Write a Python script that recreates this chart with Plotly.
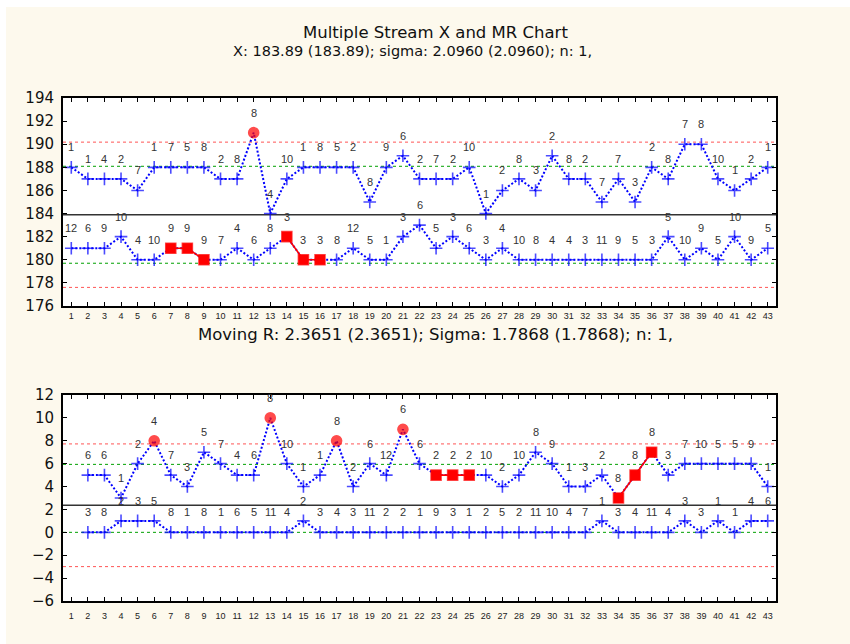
import plotly.graph_objects as go

# ---------------- data ----------------
idx = list(range(1, 44))
x_max = [188, 187, 187, 187, 186, 188, 188, 188, 188, 187, 187, 191, 184, 187, 188, 188, 188, 188, 185, 188,
         189, 187, 187, 187, 188, 184, 186, 187, 186, 189, 187, 187, 185, 187, 185, 188, 187, 190, 190, 187,
         186, 187, 188]
x_max_lbl = [1, 1, 4, 2, 7, 1, 7, 5, 8, 2, 8, 8, 4, 10, 1, 8, 5, 2, 8, 9,
             6, 2, 7, 2, 10, 1, 2, 8, 3, 2, 8, 2, 7, 7, 3, 2, 8, 7, 8, 10,
             1, 2, 1]
x_min = [181, 181, 181, 182, 180, 180, 181, 181, 180, 180, 181, 180, 181, 182, 180, 180, 180, 181, 180, 180,
         182, 183, 181, 182, 181, 180, 181, 180, 180, 180, 180, 180, 180, 180, 180, 180, 182, 180, 181, 180,
         182, 180, 181]
x_min_lbl = [12, 6, 9, 10, 4, 10, 9, 9, 9, 7, 4, 6, 8, 3, 3, 3, 8, 12, 5, 1,
             3, 6, 5, 3, 6, 3, 4, 10, 8, 4, 4, 3, 11, 9, 5, 3, 5, 10, 9, 5,
             10, 9, 5]
x_max_circles = [12]
x_max_squares = []
x_min_circles = []
x_min_squares = [7, 8, 9, 14, 15, 16]

x_ucl, x_cl_max, x_cl, x_cl_min, x_lcl = 190.18, 188.09, 183.89, 179.70, 177.61
x_lim_text = ["190.18", "188.09", "183.89", "179.70", "177.61"]

mr_idx = list(range(2, 44))
mr_max = [5, 5, 3, 6, 8, 5, 4, 7, 6, 5, 5, 10, 6, 4, 5, 8, 4, 6, 5, 9,
          6, 5, 5, 5, 5, 4, 5, 7, 6, 4, 4, 5, 3, 5, 7, 5, 6, 6, 6, 6,
          6, 4]
mr_max_lbl = [6, 6, 1, 2, 4, 7, 3, 5, 7, 4, 6, 8, 10, 1, 1, 8, 2, 6, 12, 6,
              6, 2, 2, 2, 10, 2, 10, 8, 9, 1, 3, 2, 8, 8, 8, 3, 7, 10, 5, 5,
              9, 1]
mr_min = [0, 0, 1, 1, 1, 0, 0, 0, 0, 0, 0, 0, 0, 1, 0, 0, 0, 0, 0, 0,
          0, 0, 0, 0, 0, 0, 0, 0, 0, 0, 0, 1, 0, 0, 0, 0, 1, 0, 1, 0,
          1, 1]
mr_min_lbl = [3, 8, 2, 3, 5, 8, 1, 8, 1, 6, 5, 11, 4, 2, 3, 4, 3, 11, 2, 2,
              1, 9, 3, 1, 2, 5, 2, 11, 10, 4, 7, 1, 3, 4, 11, 4, 3, 3, 1, 1,
              4, 6]
mr_max_circles = [6, 13, 17, 21]
mr_max_squares = [23, 24, 25, 34, 35, 36]
mr_min_circles = []
mr_min_squares = []

mr_ucl, mr_cl_max, mr_cl, mr_cl_min, mr_lcl = 7.7256, 5.9388, 2.3651, 0.0, -2.9954
mr_lim_text = ["7.7256", "5.9388", "2.3651", "0.0000", "-2.9954"]

title = "Multiple Stream X and MR Chart"
sub_x = "X: 183.89 (183.89); sigma: 2.0960 (2.0960); n: 1,"
sub_mr = "Moving R: 2.3651 (2.3651); Sigma: 1.7868 (1.7868); n: 1,"

# ---------------- styling helpers ----------------
BLUE = "#0000FF"
RED = "#FF0000"
CREAM = "#FDF9ED"
W, H = 850, 644
ML, MR_, MT, MB = 63, 74, 98, 43
PW, PH = W - ML - MR_, H - MT - MB


def px2paper_x(px):
    return (px - ML) / PW


def px2paper_y(py):
    return (H - MB - py) / PH


fig = go.Figure()


def add_series(xs, ys, lbls, circles, squares, xa, ya):
    sym, col, size = [], [], []
    for x in xs:
        if x in circles:
            sym.append("circle"); col.append(RED); size.append(10)
        elif x in squares:
            sym.append("square"); col.append(RED); size.append(10)
        else:
            sym.append("cross-thin"); col.append(BLUE); size.append(9)
    fig.add_trace(go.Scatter(
        x=xs, y=ys, xaxis=xa, yaxis=ya, mode="lines+markers",
        line=dict(color=BLUE, width=2, dash="2px,2px"),
        marker=dict(symbol=sym, color=col, size=size, line=dict(color=col, width=1.6)),
        showlegend=False, hoverinfo="x+y"))
    # red runs connecting consecutive flagged points
    flagged = sorted(squares)
    runs, cur = [], []
    for f in flagged:
        if cur and f == cur[-1] + 1:
            cur.append(f)
        else:
            if len(cur) > 1:
                runs.append(cur)
            cur = [f]
    if len(cur) > 1:
        runs.append(cur)
    for r in runs:
        rx = [x for x in xs if x in r]
        ry = [ys[xs.index(x)] for x in rx]
        fig.add_trace(go.Scatter(x=rx, y=ry, xaxis=xa, yaxis=ya, mode="lines+markers",
                                 line=dict(color=RED, width=1.6),
                                 marker=dict(symbol="square", color=RED, size=10),
                                 showlegend=False, hoverinfo="skip"))
    for x, y, t in zip(xs, ys, lbls):
        fig.add_annotation(x=x, y=y, xref=xa, yref=ya, text=str(t), showarrow=False,
                           yshift=20, font=dict(family="Liberation Sans", size=11, color="#333333"))


def add_limits(vals, ya):
    styles = [dict(color="#FF5555", width=1, dash="dot"),
              dict(color="#00A000", width=1, dash="dot"),
              dict(color="#333333", width=1.5),
              dict(color="#00A000", width=1, dash="dot"),
              dict(color="#FF5555", width=1, dash="dot")]
    for v, st in zip(vals, styles):
        fig.add_shape(type="line", xref=("x domain" if ya == "y" else "x2 domain"), yref=ya,
                      x0=0, x1=1, y0=v, y1=v, line=st, layer="below")


add_limits([x_ucl, x_cl_max, x_cl, x_cl_min, x_lcl], "y")
add_limits([mr_ucl, mr_cl_max, mr_cl, mr_cl_min, mr_lcl], "y2")

add_series(idx, x_max, x_max_lbl, x_max_circles, x_max_squares, "x", "y")
add_series(idx, x_min, x_min_lbl, x_min_circles, x_min_squares, "x", "y")
add_series(mr_idx, mr_max, mr_max_lbl, mr_max_circles, mr_max_squares, "x2", "y2")
add_series(mr_idx, mr_min, mr_min_lbl, mr_min_circles, mr_min_squares, "x2", "y2")

axis_common = dict(showgrid=False, zeroline=False, showline=True, linecolor="black", linewidth=2,
                   ticks="inside", ticklen=4, tickwidth=1, tickcolor="black", mirror="ticks")
xax = dict(axis_common, range=[0.5, 43.5], tickmode="array", tickvals=idx,
           tickfont=dict(family="Liberation Sans", size=9, color="#222222"))
yfont = dict(family="DejaVu Sans", size=15, color="#111111")

top_dom = [px2paper_y(306), 1.0]
bot_dom = [0.0, px2paper_y(395)]

fig.update_layout(
    width=W, height=H,
    margin=dict(l=ML, r=MR_, t=MT, b=MB, pad=0),
    paper_bgcolor=CREAM, plot_bgcolor="white",
    showlegend=False,
    xaxis=dict(xax, anchor="y", domain=[0, 1], ticklabelstandoff=0),
    xaxis2=dict(xax, anchor="y2", domain=[0, 1], ticklabelstandoff=5),
    yaxis=dict(axis_common, range=[176, 194], tick0=176, dtick=2, domain=top_dom, anchor="x",
               tickfont=yfont, ticklabelstandoff=4),
    yaxis2=dict(axis_common, range=[-6, 12], tick0=-6, dtick=2, domain=bot_dom, anchor="x2",
                tickfont=yfont, ticklabelstandoff=4),
    yaxis3=dict(overlaying="y", side="right", anchor="x", range=[176, 194], showgrid=False,
                zeroline=False, showline=False, ticks="inside", ticklen=4, tickcolor="black",
                tickmode="array", tickvals=[x_ucl, x_cl_max, x_cl, x_cl_min, x_lcl],
                ticktext=x_lim_text, tickfont=yfont, ticklabelstandoff=8),
    yaxis4=dict(overlaying="y2", side="right", anchor="x2", range=[-6, 12], showgrid=False,
                zeroline=False, showline=False, ticks="inside", ticklen=4, tickcolor="black",
                tickmode="array", tickvals=[mr_ucl, mr_cl_max, mr_cl, mr_cl_min, mr_lcl],
                ticktext=mr_lim_text, tickfont=yfont, ticklabelstandoff=8),
)

# titles
fig.add_annotation(xref="paper", yref="paper", x=px2paper_x(435), y=px2paper_y(32), text=title,
                   showarrow=False, xanchor="center", yanchor="middle",
                   font=dict(family="DejaVu Sans", size=16.5, color="#111111"))
fig.add_annotation(xref="paper", yref="paper", x=px2paper_x(412), y=px2paper_y(51), text=sub_x,
                   showarrow=False, xanchor="center", yanchor="middle",
                   font=dict(family="DejaVu Sans", size=14.5, color="#111111"))
fig.add_annotation(xref="paper", yref="paper", x=px2paper_x(435), y=px2paper_y(334), text=sub_mr,
                   showarrow=False, xanchor="center", yanchor="middle",
                   font=dict(family="DejaVu Sans", size=16.5, color="#111111"))

# white frame strips (top and left edges)
fig.add_shape(type="rect", xref="paper", yref="paper", x0=px2paper_x(0), x1=px2paper_x(W),
              y0=px2paper_y(7), y1=px2paper_y(0), fillcolor="white", line=dict(width=0))
fig.add_shape(type="rect", xref="paper", yref="paper", x0=px2paper_x(0), x1=px2paper_x(6),
              y0=px2paper_y(H), y1=px2paper_y(0), fillcolor="white", line=dict(width=0))

fig.write_html("out.html")
